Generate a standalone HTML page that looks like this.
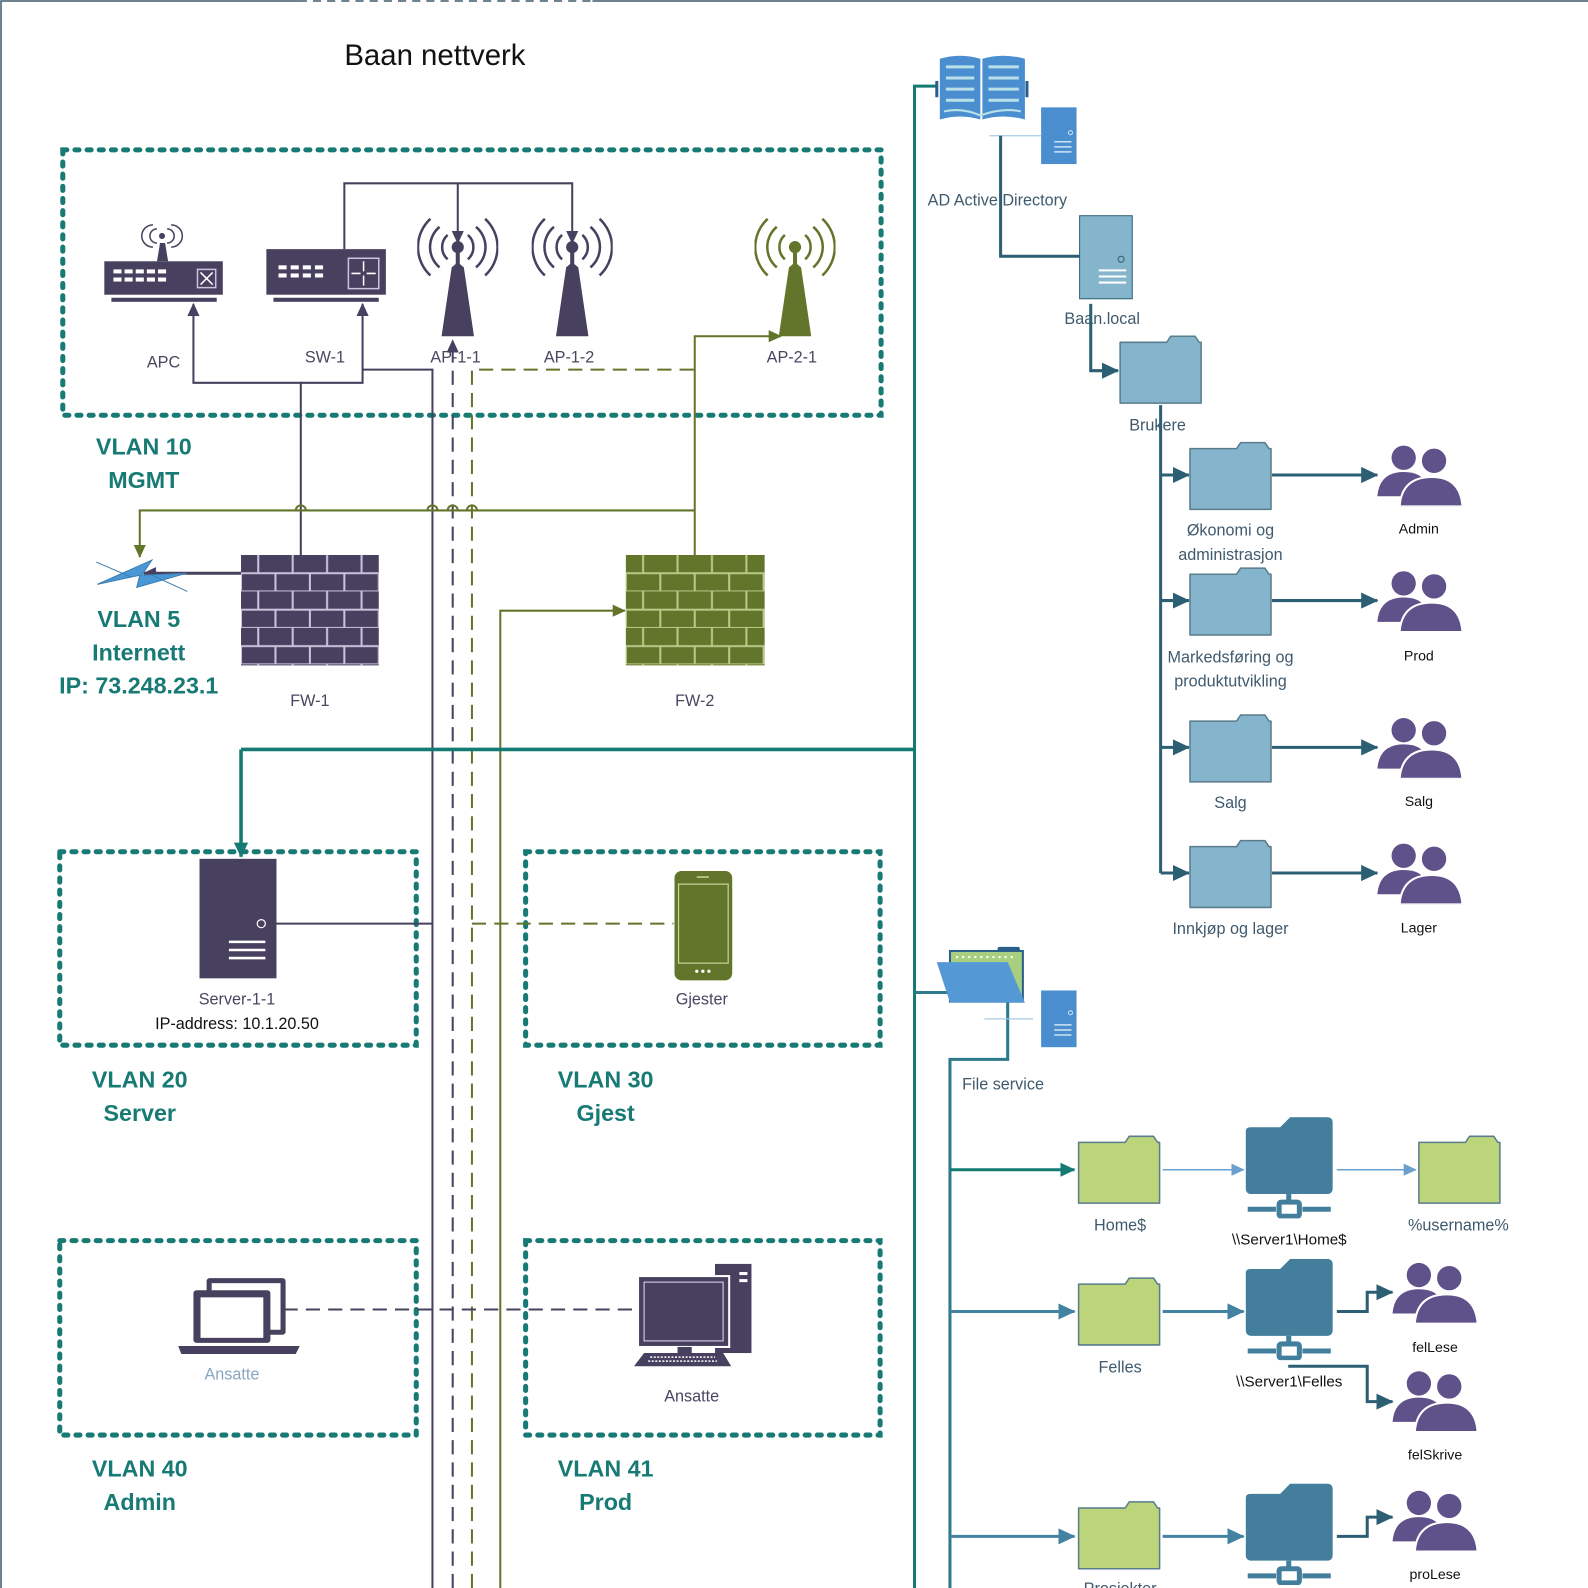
<!DOCTYPE html>
<html><head><meta charset="utf-8"><style>
html,body{margin:0;padding:0;background:#fff;}
svg{display:block;}
text{font-family:"Liberation Sans",sans-serif;}
.lbl{font-size:16px;fill:#3f5a6e;}
.lblp{font-size:16px;fill:#4a4560;}
.vl{font-size:23px;font-weight:bold;fill:#177a74;}
.pl{font-size:14px;fill:#111;}
</style></head><body>
<svg width="1588" height="1588" viewBox="0 0 1568 1568" xmlns="http://www.w3.org/2000/svg">
<defs>
<marker id="aP" markerWidth="14" markerHeight="14" refX="12" refY="7" orient="auto" markerUnits="userSpaceOnUse"><path d="M0,1 L13,7 L0,13 z" fill="#47405f"/></marker>
<marker id="aO" markerWidth="14" markerHeight="14" refX="12" refY="7" orient="auto" markerUnits="userSpaceOnUse"><path d="M0,1 L13,7 L0,13 z" fill="#62752a"/></marker>
<marker id="aT" markerWidth="16" markerHeight="16" refX="14" refY="8" orient="auto" markerUnits="userSpaceOnUse"><path d="M0,1 L15,8 L0,15 z" fill="#157a74"/></marker>
<marker id="aB" markerWidth="18" markerHeight="18" refX="16" refY="9" orient="auto" markerUnits="userSpaceOnUse"><path d="M0,1 L17,9 L0,17 z" fill="#2d5f74"/></marker>
<marker id="aF" markerWidth="18" markerHeight="18" refX="16" refY="9" orient="auto" markerUnits="userSpaceOnUse"><path d="M0,1 L17,9 L0,17 z" fill="#4382a0"/></marker>
<marker id="aL" markerWidth="14" markerHeight="14" refX="12" refY="7" orient="auto" markerUnits="userSpaceOnUse"><path d="M0,1 L13,7 L0,13 z" fill="#6a9fce"/></marker>
<pattern id="brick" width="34" height="36" patternUnits="userSpaceOnUse" x="238" y="548">
<path d="M0,18 H34 M0,36 H34 M17,0 V18 M0,18 V36 M34,18 V36" stroke="#c9c3dc" stroke-width="2" fill="none"/>
</pattern>
<pattern id="brick2" width="34" height="36" patternUnits="userSpaceOnUse" x="618" y="548">
<path d="M0,18 H34 M0,36 H34 M17,0 V18 M0,18 V36 M34,18 V36" stroke="#b9c98a" stroke-width="2" fill="none"/>
</pattern>
<symbol id="folder" viewBox="0 0 84 70">
<path d="M2,8 H48 L52,2 H76 L80,8 H82 V68 H2 Z" fill="currentColor" stroke="#5a7c8c" stroke-width="1.5" stroke-linejoin="round"/>
</symbol>
<symbol id="people" viewBox="0 0 84 62">
<circle cx="26" cy="14" r="12" fill="#5f5189"/>
<path d="M0,52 Q2,28 26,28 Q44,28 48,40 L44,52 Z" fill="#5f5189"/>
<circle cx="56" cy="17" r="13" fill="#5f5189" stroke="#fff" stroke-width="2"/>
<path d="M22,62 Q24,33 54,33 Q82,33 84,62 Z" fill="#5f5189" stroke="#fff" stroke-width="2"/>
</symbol>
<symbol id="share" viewBox="0 0 86 100">
<path d="M0,14 Q0,10 5,10 H34 L44,0 H80 Q86,0 86,6 V70 Q86,76 80,76 H6 Q0,76 0,70 Z" fill="#437f9c"/>
<rect x="40" y="76" width="5" height="8" fill="#437f9c"/>
<rect x="33" y="84" width="20" height="14" rx="2" fill="none" stroke="#437f9c" stroke-width="5"/>
<path d="M2,91 H30 M56,91 H84" stroke="#437f9c" stroke-width="5"/>
</symbol>
<symbol id="tower" viewBox="0 0 80 120">
<path d="M40,45 L34,50 L24,118 H56 L46,50 Z" fill="currentColor"/>
<rect x="38" y="30" width="4" height="20" fill="currentColor"/>
<circle cx="40" cy="30" r="6" fill="currentColor"/>
<path d="M30,18 A16,16 0 0 0 30,42 M50,18 A16,16 0 0 1 50,42 M22,10 A26,26 0 0 0 22,50 M58,10 A26,26 0 0 1 58,50 M13,2 A38,38 0 0 0 13,58 M67,2 A38,38 0 0 1 67,58" stroke="currentColor" stroke-width="2.5" fill="none"/>
</symbol>
</defs>

<path d="M1,1568 V1 H295" stroke="#3d5a6c" stroke-width="1.5" fill="none"/>
<path d="M295,1 H585" stroke="#3d5a6c" stroke-width="1.5" stroke-dasharray="8 6" fill="none"/>
<path d="M585,1 H1568" stroke="#3d5a6c" stroke-width="1.5" fill="none"/>

<text x="340" y="64" style="font-size:29px;fill:#111">Baan nettverk</text>

<g fill="none" stroke="#177a74" stroke-width="5" stroke-dasharray="4 8" stroke-linecap="round">
<rect x="62" y="148" width="808" height="262"/>
<rect x="59" y="841" width="352" height="191"/>
<rect x="519" y="841" width="350" height="191"/>
<rect x="59" y="1225" width="352" height="192"/>
<rect x="519" y="1225" width="350" height="192"/>
</g>

<g fill="none" stroke-width="2">
<path d="M340,246 V181 H565 V240" stroke="#47405f" marker-end="url(#aP)"/>
<path d="M452,181 V240" stroke="#47405f" marker-end="url(#aP)"/>
<path d="M297,548 V378 H191 V300" stroke="#47405f" marker-end="url(#aP)"/>
<path d="M297,378 H358 V300" stroke="#47405f" marker-end="url(#aP)"/>
<path d="M358,365 H427 V1568" stroke="#47405f"/>
<path d="M447,1568 V336" stroke="#47405f" stroke-dasharray="14 8" marker-end="url(#aP)"/>
<path d="M466,1568 V365 H687" stroke="#62752a" stroke-dasharray="14 8"/>
<path d="M686,548 V332 H771" stroke="#62752a" marker-end="url(#aO)"/>
<path d="M686,504 H138 V550" stroke="#62752a" marker-end="url(#aO)"/>
<path d="M238,566 H142" stroke="#47405f" stroke-width="3" marker-end="url(#aP)"/>
<path d="M494,1568 V603 H617" stroke="#62752a" marker-end="url(#aO)"/>
<path d="M270,912 H427" stroke="#47405f"/>
<path d="M466,912 H665" stroke="#62752a" stroke-dasharray="14 8"/>
<path d="M280,1293 H630" stroke="#47405f" stroke-dasharray="14 8"/>
</g>
<g fill="none" stroke-width="2">
<path d="M292,504 a5,5 0 0 1 10,0" stroke="#62752a"/>
<path d="M422,504 a5,5 0 0 1 10,0 M442,504 a5,5 0 0 1 10,0 M461,504 a5,5 0 0 1 10,0" stroke="#62752a"/>
</g>
<path d="M238,740 H903" stroke="#157a74" stroke-width="3.5" fill="none"/>
<path d="M238,740 V846" stroke="#157a74" stroke-width="3.5" fill="none" marker-end="url(#aT)"/>
<path d="M903,1568 V85 H925" stroke="#157a74" stroke-width="3" fill="none"/>
<path d="M903,980 H995 V1046 H938 V1568" stroke="#2d7a8a" stroke-width="3" fill="none"/>

<g fill="#47405f">
<rect x="103" y="258" width="117" height="33"/>
<rect x="110" y="294" width="104" height="4"/>
<path d="M158,240 L163,240 L166,258 L155,258 Z"/>
<circle cx="160" cy="233" r="3"/>
</g>
<path d="M155,226 a7,7 0 0 0 0,14 M165,226 a7,7 0 0 1 0,14 M151,222 a11,11 0 0 0 0,22 M169,222 a11,11 0 0 1 0,22" stroke="#47405f" stroke-width="1.5" fill="none"/>
<g fill="#fff"><rect x="112" y="266" width="8" height="4"/><rect x="123" y="266" width="8" height="4"/><rect x="134" y="266" width="8" height="4"/><rect x="145" y="266" width="8" height="4"/><rect x="156" y="266" width="8" height="4"/>
<rect x="112" y="274" width="8" height="4"/><rect x="123" y="274" width="8" height="4"/><rect x="134" y="274" width="8" height="4"/><rect x="145" y="274" width="8" height="4"/><rect x="156" y="274" width="8" height="4"/></g>
<rect x="195" y="266" width="18" height="18" fill="none" stroke="#c9c3dc" stroke-width="1.5"/>
<path d="M198,269 L210,281 M210,269 L198,281" stroke="#fff" stroke-width="1.5"/>
<g fill="#47405f"><rect x="263" y="246" width="118" height="45"/><rect x="270" y="294" width="104" height="4"/></g>
<g fill="#fff"><rect x="275" y="262" width="8" height="4"/><rect x="287" y="262" width="8" height="4"/><rect x="299" y="262" width="8" height="4"/><rect x="311" y="262" width="8" height="4"/>
<rect x="275" y="270" width="8" height="4"/><rect x="287" y="270" width="8" height="4"/><rect x="299" y="270" width="8" height="4"/><rect x="311" y="270" width="8" height="4"/></g>
<rect x="344" y="255" width="30" height="30" fill="none" stroke="#c9c3dc" stroke-width="1.5"/>
<path d="M359,258 V268 M359,282 V272 M347,270 H356 M371,270 H362" stroke="#fff" stroke-width="1.5"/>

<use href="#tower" x="412" y="214" width="80" height="120" style="color:#47405f"/>
<use href="#tower" x="525" y="214" width="80" height="120" style="color:#47405f"/>
<use href="#tower" x="745" y="214" width="80" height="120" style="color:#62752a"/>

<text x="145" y="363" class="lblp">APC</text>
<text x="301" y="358" class="lblp">SW-1</text>
<text x="425" y="358" class="lblp">AP-1-1</text>
<text x="537" y="358" class="lblp">AP-1-2</text>
<text x="757" y="358" class="lblp">AP-2-1</text>

<text x="142" y="449" class="vl" text-anchor="middle">VLAN 10</text>
<text x="142" y="482" class="vl" text-anchor="middle">MGMT</text>

<path d="M95,555 L130,570 M150,568 L185,584 M96,577 L150,553 L140,568 L184,566 L135,580 L138,568 Z" stroke="#3d7fb0" stroke-width="1" fill="#4a97d6"/>
<text x="137" y="619" class="vl" text-anchor="middle">VLAN 5</text>
<text x="137" y="652" class="vl" text-anchor="middle">Internett</text>
<text x="137" y="685" class="vl" text-anchor="middle">IP: 73.248.23.1</text>

<rect x="238" y="548" width="136" height="109" fill="#47405f"/>
<rect x="238" y="548" width="136" height="109" fill="url(#brick)"/>
<rect x="618" y="548" width="137" height="109" fill="#62752a"/>
<rect x="618" y="548" width="137" height="109" fill="url(#brick2)"/>
<text x="306" y="697" class="lblp" text-anchor="middle">FW-1</text>
<text x="686" y="697" class="lblp" text-anchor="middle">FW-2</text>

<rect x="197" y="848" width="76" height="118" fill="#47405f"/>
<circle cx="258" cy="912" r="4" fill="none" stroke="#fff" stroke-width="1.2"/>
<path d="M226,930 H262 M226,938 H262 M226,946 H262" stroke="#fff" stroke-width="2.5"/>
<text x="234" y="992" class="lblp" text-anchor="middle">Server-1-1</text>
<text x="234" y="1016" class="pl" text-anchor="middle" style="font-size:16px">IP-address: 10.1.20.50</text>
<text x="138" y="1074" class="vl" text-anchor="middle">VLAN 20</text>
<text x="138" y="1107" class="vl" text-anchor="middle">Server</text>

<rect x="666" y="860" width="57" height="108" rx="7" fill="#62752a"/>
<rect x="670" y="873" width="49" height="78" fill="none" stroke="#c7d39c" stroke-width="1.2"/>
<path d="M688,866 H700" stroke="#c7d39c" stroke-width="1.5"/>
<circle cx="688" cy="959" r="1.6" fill="#fff"/><circle cx="694" cy="959" r="1.6" fill="#fff"/><circle cx="700" cy="959" r="1.6" fill="#fff"/>
<text x="693" y="992" class="lblp" text-anchor="middle">Gjester</text>
<text x="598" y="1074" class="vl" text-anchor="middle">VLAN 30</text>
<text x="598" y="1107" class="vl" text-anchor="middle">Gjest</text>

<rect x="204" y="1262" width="78" height="56" rx="3" fill="#47405f"/>
<rect x="209" y="1267" width="68" height="46" fill="#fff"/>
<rect x="191" y="1274" width="76" height="52" rx="3" fill="#47405f"/>
<rect x="198" y="1281" width="62" height="40" fill="#fff"/>
<path d="M176,1329 H296 L292,1337 H179 Z" fill="#47405f"/>
<text x="229" y="1362" style="font-size:16px;fill:#8aa6c0" text-anchor="middle">Ansatte</text>
<text x="138" y="1458" class="vl" text-anchor="middle">VLAN 40</text>
<text x="138" y="1491" class="vl" text-anchor="middle">Admin</text>

<rect x="706" y="1248" width="36" height="88" fill="#47405f"/>
<rect x="730" y="1256" width="8" height="3" fill="#fff"/><rect x="730" y="1263" width="8" height="3" fill="#fff"/>
<rect x="630" y="1260" width="90" height="70" fill="#47405f" stroke="#fff" stroke-width="2"/>
<rect x="636" y="1266" width="78" height="58" fill="none" stroke="#c9c3dc" stroke-width="1.2"/>
<rect x="669" y="1330" width="14" height="7" fill="#47405f"/>
<path d="M636,1336 H714 L722,1349 H626 Z" fill="#47405f"/>
<path d="M642,1340 H706 M640,1344 H708" stroke="#fff" stroke-width="1.5" stroke-dasharray="2 1.5"/>
<text x="683" y="1384" class="lblp" text-anchor="middle">Ansatte</text>
<text x="598" y="1458" class="vl" text-anchor="middle">VLAN 41</text>
<text x="598" y="1491" class="vl" text-anchor="middle">Prod</text>

<g>
<path d="M928,58 Q948,52 968,58 V118 Q948,112 928,118 Z" fill="#4a8ed0"/>
<path d="M970,58 Q990,52 1012,58 V118 Q990,112 970,118 Z" fill="#4a8ed0"/>
<path d="M925,80 V96 M1014,80 V96" stroke="#2a5f8c" stroke-width="3"/>
<path d="M934,66 H962 M934,77 H962 M934,88 H962 M934,99 H962 M976,66 H1006 M976,77 H1006 M976,88 H1006 M976,99 H1006" stroke="#b8e0e6" stroke-width="3"/>
<path d="M932,110 Q950,106 968,114 Q990,106 1008,110" stroke="#b8e0e6" stroke-width="2" fill="none"/>
</g>
<rect x="1028" y="106" width="35" height="56" fill="#4a8ed0"/>
<path d="M1041,140 H1058 M1041,145 H1058 M1041,150 H1058" stroke="#cfe3f3" stroke-width="1.5"/>
<circle cx="1057" cy="131" r="2" fill="none" stroke="#cfe3f3"/>
<path d="M977,134 H1028" stroke="#a9cbe3" stroke-width="1.2"/>
<text x="916" y="203" class="lbl">AD Active Directory</text>
<path d="M988,134 V253 H1092" stroke="#2d5f74" stroke-width="3" fill="none" marker-end="url(#aB)"/>
<rect x="1066" y="213" width="52" height="82" fill="#85b5cc" stroke="#2d5f74" stroke-width="1"/>
<circle cx="1107" cy="256" r="3" fill="none" stroke="#2d5f74"/>
<path d="M1085,267 H1112 M1085,273 H1112 M1085,279 H1112" stroke="#fff" stroke-width="2"/>
<text x="1051" y="320" class="lbl">Baan.local</text>
<path d="M1077,300 V366 H1104" stroke="#2d5f74" stroke-width="3" fill="none" marker-end="url(#aB)"/>
<use href="#folder" x="1104" y="330" width="84" height="70" style="color:#85b5cc"/>
<text x="1115" y="425" class="lbl">Brukere</text>
<path d="M1146,400 V862" stroke="#2d5f74" stroke-width="3" fill="none"/>
<g stroke="#2d5f74" stroke-width="3" fill="none">
<path d="M1146,469 H1174" marker-end="url(#aB)"/>
<path d="M1146,593 H1174" marker-end="url(#aB)"/>
<path d="M1146,738 H1174" marker-end="url(#aB)"/>
<path d="M1146,862 H1174" marker-end="url(#aB)"/>
<path d="M1256,469 H1360" marker-end="url(#aB)"/>
<path d="M1256,593 H1360" marker-end="url(#aB)"/>
<path d="M1256,738 H1360" marker-end="url(#aB)"/>
<path d="M1256,862 H1360" marker-end="url(#aB)"/>
</g>
<use href="#folder" x="1173" y="435" width="84" height="70" style="color:#85b5cc"/>
<use href="#folder" x="1173" y="559" width="84" height="70" style="color:#85b5cc"/>
<use href="#folder" x="1173" y="704" width="84" height="70" style="color:#85b5cc"/>
<use href="#folder" x="1173" y="828" width="84" height="70" style="color:#85b5cc"/>
<use href="#people" x="1360" y="438" width="84" height="62"/>
<use href="#people" x="1360" y="562" width="84" height="62"/>
<use href="#people" x="1360" y="707" width="84" height="62"/>
<use href="#people" x="1360" y="831" width="84" height="62"/>
<text x="1215" y="529" class="lbl" text-anchor="middle">Økonomi og</text>
<text x="1215" y="553" class="lbl" text-anchor="middle">administrasjon</text>
<text x="1215" y="654" class="lbl" text-anchor="middle">Markedsføring og</text>
<text x="1215" y="678" class="lbl" text-anchor="middle">produktutvikling</text>
<text x="1215" y="798" class="lbl" text-anchor="middle">Salg</text>
<text x="1215" y="922" class="lbl" text-anchor="middle">Innkjøp og lager</text>
<text x="1401" y="527" class="pl" text-anchor="middle">Admin</text>
<text x="1401" y="652" class="pl" text-anchor="middle">Prod</text>
<text x="1401" y="796" class="pl" text-anchor="middle">Salg</text>
<text x="1401" y="921" class="pl" text-anchor="middle">Lager</text>

<rect x="985" y="935" width="22" height="8" rx="2" fill="#2a5f8c"/>
<rect x="938" y="939" width="72" height="50" fill="#a8cf80" stroke="#2a5f8c" stroke-width="2"/>
<path d="M944,945 H1004" stroke="#fff" stroke-width="2" stroke-dasharray="2 4"/>
<path d="M925,950 H995 L1012,990 H938 Z" fill="#5598d6"/>
<rect x="1028" y="978" width="35" height="56" fill="#4a8ed0"/>
<path d="M1041,1012 H1058 M1041,1017 H1058 M1041,1022 H1058" stroke="#cfe3f3" stroke-width="1.5"/>
<circle cx="1057" cy="1000" r="2" fill="none" stroke="#cfe3f3"/>
<path d="M972,1006 H1020" stroke="#a9cbe3" stroke-width="1.2"/>
<text x="950" y="1076" class="lbl">File service</text>

<g stroke-width="3" fill="none">
<path d="M938,1155 H1061" stroke="#157a74" marker-end="url(#aT)"/>
<path d="M938,1295 H1061" stroke="#4382a0" marker-end="url(#aF)"/>
<path d="M938,1517 H1061" stroke="#4382a0" marker-end="url(#aF)"/>
<path d="M1148,1295 H1228" stroke="#4382a0" marker-end="url(#aF)"/>
<path d="M1148,1517 H1228" stroke="#4382a0" marker-end="url(#aF)"/>
<path d="M1320,1295 H1350 V1276 H1375" stroke="#2d5f74" marker-end="url(#aB)"/>
<path d="M1272,1349 H1350 V1384 H1375" stroke="#2d5f74" marker-end="url(#aB)"/>
<path d="M1320,1517 H1350 V1498 H1375" stroke="#2d5f74" marker-end="url(#aB)"/>
</g>
<path d="M1148,1155 H1228" stroke="#6a9fce" stroke-width="1.5" fill="none" marker-end="url(#aL)"/>
<path d="M1320,1155 H1398" stroke="#6a9fce" stroke-width="1.5" fill="none" marker-end="url(#aL)"/>

<use href="#folder" x="1062" y="1120" width="86" height="70" style="color:#bcd47a"/>
<use href="#folder" x="1062" y="1260" width="86" height="70" style="color:#bcd47a"/>
<use href="#folder" x="1062" y="1481" width="86" height="70" style="color:#bcd47a"/>
<use href="#folder" x="1398" y="1120" width="86" height="70" style="color:#bcd47a"/>
<use href="#share" x="1230" y="1103" width="86" height="100"/>
<use href="#share" x="1230" y="1243" width="86" height="100"/>
<use href="#share" x="1230" y="1465" width="86" height="100"/>
<use href="#people" x="1375" y="1245" width="84" height="62"/>
<use href="#people" x="1375" y="1352" width="84" height="62"/>
<use href="#people" x="1375" y="1470" width="84" height="62"/>

<text x="1106" y="1215" class="lbl" text-anchor="middle">Home$</text>
<text x="1273" y="1229" class="pl" text-anchor="middle" style="font-size:15px">\\Server1\Home$</text>
<text x="1440" y="1215" class="lbl" text-anchor="middle">%username%</text>
<text x="1106" y="1355" class="lbl" text-anchor="middle">Felles</text>
<text x="1273" y="1369" class="pl" text-anchor="middle" style="font-size:15px">\\Server1\Felles</text>
<text x="1417" y="1335" class="pl" text-anchor="middle">felLese</text>
<text x="1417" y="1441" class="pl" text-anchor="middle">felSkrive</text>
<text x="1417" y="1559" class="pl" text-anchor="middle">proLese</text>
<text x="1106" y="1574" class="lbl" text-anchor="middle">Prosjekter</text>
</svg>
</body></html>
